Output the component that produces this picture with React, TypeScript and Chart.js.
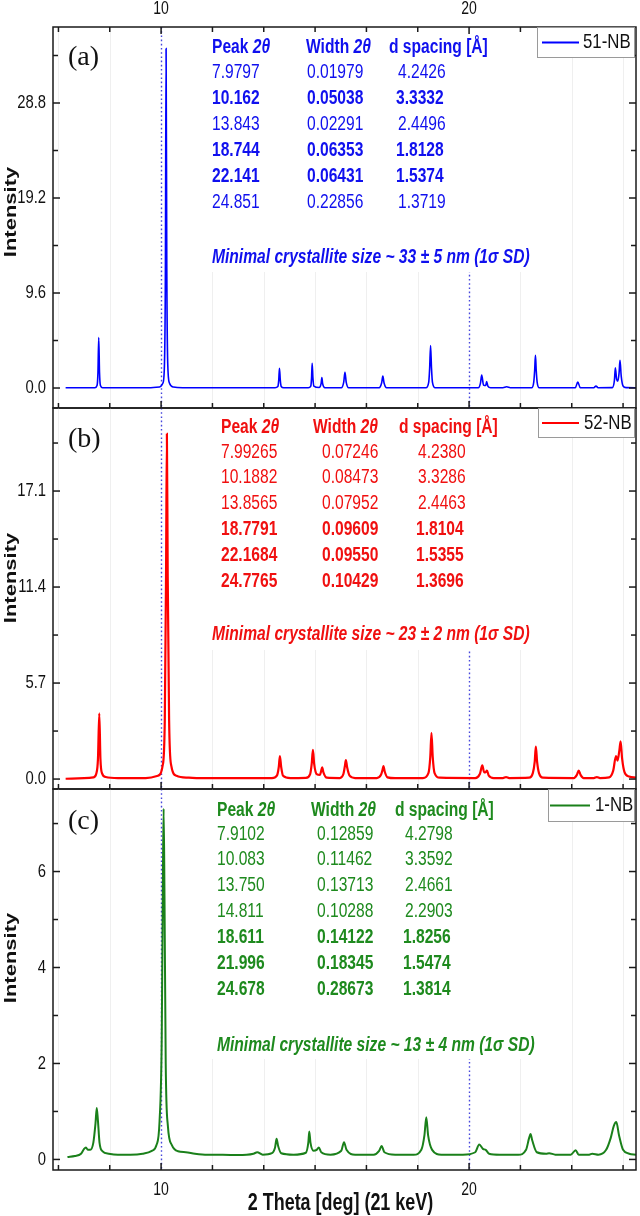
import React, { useEffect, useRef } from 'react';
import { Chart, registerables } from 'chart.js';
Chart.register(...registerables);

// ---------------- data ----------------
const X_MIN = 6.49;
const X_MAX = 25.42;
const xMajorTicks = [10, 20];
const xMajorLabels = ['10', '20'];
const xMinorTicks = [6.667, 8.333, 11.667, 13.333, 15, 16.667, 18.333, 21.667, 23.333, 25];
const xTitle = '2 Theta [deg] (21 keV)';
const yTitle = 'Intensity';

// panel (a) 51-NB
const xA = [6.9, 7.5, 7.85, 7.92, 7.95, 7.975, 8.0, 8.03, 8.1, 9.6, 9.95, 10.06, 10.11, 10.14, 10.162, 10.185, 10.215, 10.27, 10.4, 10.7,
  13.7, 13.79, 13.82, 13.843, 13.87, 13.9, 13.98, 14.78, 14.86, 14.885, 14.905, 14.93, 14.96, 15.13, 15.195, 15.22, 15.245, 15.32,
  15.85, 15.93, 15.97, 16.01, 16.09, 17.08, 17.16, 17.2, 17.24, 17.32, 18.6, 18.69, 18.72, 18.75, 18.78, 18.81, 18.9,
  20.3, 20.37, 20.41, 20.47, 20.54, 20.57, 20.61, 20.7, 21.1, 21.22, 21.34, 22.03, 22.1, 22.13, 22.155, 22.18, 22.21, 22.28,
  23.45, 23.53, 23.61, 24.05, 24.12, 24.19, 24.65, 24.72, 24.75, 24.79, 24.83, 24.87, 24.9, 24.94, 25.0, 25.1, 25.42];
const yA = [0.02, 0.02, 0.03, 0.25, 1.6, 5.1, 1.6, 0.25, 0.03, 0.03, 0.1, 0.5, 2.5, 12, 34.3, 12, 2.5, 0.5, 0.1, 0.03,
  0.03, 0.15, 0.8, 2.0, 0.8, 0.15, 0.03, 0.03, 0.2, 1.0, 2.5, 1.0, 0.2, 0.05, 0.45, 1.05, 0.45, 0.03,
  0.03, 0.6, 1.6, 0.6, 0.03, 0.03, 0.5, 1.2, 0.5, 0.03, 0.03, 0.6, 2.0, 4.3, 2.0, 0.6, 0.03,
  0.03, 0.5, 1.3, 0.3, 0.25, 0.65, 0.2, 0.03, 0.03, 0.12, 0.03, 0.03, 0.6, 1.8, 3.3, 1.8, 0.6, 0.03,
  0.03, 0.6, 0.03, 0.03, 0.2, 0.03, 0.04, 0.8, 2.05, 0.9, 0.7, 1.5, 2.8, 1.2, 0.2, 0.04, 0.03];

// panel (b) 52-NB
const xB = [6.9, 7.5, 7.8, 7.9, 7.95, 7.993, 8.03, 8.08, 8.2, 8.6, 9.5, 9.9, 10.05, 10.12, 10.16, 10.188, 10.215, 10.26, 10.33, 10.5, 10.9, 11.5,
  13.6, 13.76, 13.82, 13.857, 13.9, 13.96, 14.2, 14.7, 14.84, 14.89, 14.93, 14.97, 15.05, 15.16, 15.2, 15.23, 15.27, 15.38,
  15.8, 15.92, 15.97, 16.0, 16.04, 16.12, 16.3, 17.0, 17.14, 17.19, 17.22, 17.26, 17.35, 17.6, 18.5, 18.68, 18.74, 18.779, 18.82, 18.88, 19.05,
  20.2, 20.35, 20.43, 20.49, 20.53, 20.58, 20.64, 20.8, 21.1, 21.2, 21.3, 21.95, 22.07, 22.13, 22.168, 22.21, 22.27, 22.4,
  23.4, 23.5, 23.56, 23.62, 23.72, 24.05, 24.15, 24.25, 24.55, 24.68, 24.77, 24.82, 24.88, 24.92, 24.97, 25.05, 25.2, 25.42];
const yB = [0.02, 0.05, 0.1, 0.35, 1.2, 3.9, 1.2, 0.35, 0.12, 0.06, 0.06, 0.2, 0.8, 3.5, 12, 20.5, 12, 3.5, 0.8, 0.2, 0.08, 0.05,
  0.05, 0.2, 0.7, 1.37, 0.7, 0.2, 0.06, 0.07, 0.3, 0.9, 1.74, 0.9, 0.3, 0.25, 0.5, 0.7, 0.4, 0.08,
  0.06, 0.3, 0.8, 1.13, 0.7, 0.2, 0.06, 0.06, 0.25, 0.55, 0.77, 0.45, 0.1, 0.05, 0.06, 0.35, 1.3, 2.75, 1.3, 0.35, 0.08,
  0.06, 0.3, 0.81, 0.4, 0.4, 0.5, 0.2, 0.06, 0.06, 0.12, 0.06, 0.08, 0.35, 1.0, 1.92, 1.0, 0.35, 0.08,
  0.06, 0.25, 0.5, 0.25, 0.06, 0.06, 0.12, 0.06, 0.1, 0.5, 1.37, 1.1, 1.7, 2.24, 1.2, 0.4, 0.15, 0.08];

// panel (c) 1-NB
const xC = [6.96, 7.2, 7.4, 7.5, 7.56, 7.62, 7.7, 7.8, 7.87, 7.91, 7.95, 8.0, 8.1, 8.3, 8.6, 9.0, 9.4, 9.7, 9.85, 9.95, 10.02, 10.06, 10.083, 10.11, 10.15, 10.22, 10.35, 10.55,
  10.8, 11.1, 11.5, 12.0, 12.5, 13.0, 13.12, 13.3, 13.6, 13.7, 13.75, 13.8, 13.9, 14.3, 14.7, 14.78, 14.811, 14.85, 14.95, 15.05, 15.12, 15.2, 15.5,
  15.85, 15.94, 16.02, 16.3, 16.9, 17.08, 17.16, 17.25, 17.6, 18.2, 18.45, 18.55, 18.611, 18.67, 18.8, 19.1, 19.8, 20.2, 20.33, 20.45, 20.54, 20.65,
  21.0, 21.6, 21.85, 21.95, 21.996, 22.05, 22.2, 22.5, 22.6, 22.8, 23.3, 23.46, 23.56, 23.9, 24.0, 24.2, 24.45, 24.6, 24.7, 24.78, 24.87, 25.0, 25.2, 25.42];
const yC = [0.05, 0.07, 0.12, 0.22, 0.25, 0.2, 0.2, 0.35, 0.75, 1.07, 0.8, 0.35, 0.17, 0.12, 0.1, 0.1, 0.12, 0.18, 0.3, 0.8, 2.5, 6.0, 7.31, 5.5, 2.0, 0.7, 0.3, 0.17,
  0.15, 0.12, 0.1, 0.1, 0.09, 0.12, 0.15, 0.1, 0.13, 0.25, 0.43, 0.28, 0.13, 0.1, 0.14, 0.35, 0.58, 0.35, 0.18, 0.2, 0.25, 0.15, 0.1,
  0.18, 0.36, 0.2, 0.1, 0.1, 0.18, 0.28, 0.15, 0.1, 0.1, 0.2, 0.5, 0.88, 0.5, 0.2, 0.1, 0.1, 0.15, 0.31, 0.22, 0.2, 0.12,
  0.1, 0.1, 0.2, 0.45, 0.53, 0.4, 0.15, 0.12, 0.13, 0.1, 0.1, 0.19, 0.1, 0.1, 0.12, 0.1, 0.2, 0.45, 0.7, 0.78, 0.5, 0.2, 0.12, 0.1];

// y ticks
const yMajorA = [0, 9.6, 19.2, 28.8];
const yMinorA = [4.8, 14.4, 24, 33.6];
const yLabelsA = ['0.0', '9.6', '19.2', '28.8'];
const yMajorB = [0, 5.7, 11.4, 17.1];
const yMinorB = [2.85, 8.55, 14.25, 19.95];
const yLabelsB = ['0.0', '5.7', '11.4', '17.1'];
const yMajorC = [0, 2, 4, 6];
const yMinorC = [1, 3, 5, 7];
const yLabelsC = ['0', '2', '4', '6'];

// tables
const peaksA = ['7.9797', '10.162', '13.843', '18.744', '22.141', '24.851'];
const widthsA = ['0.01979', '0.05038', '0.02291', '0.06353', '0.06431', '0.22856'];
const dA = ['4.2426', '3.3332', '2.4496', '1.8128', '1.5374', '1.3719'];
const boldA = [false, true, false, true, true, false];
const crystalA = 'Minimal crystallite size ~ 33 ± 5 nm (1σ SD)';

const peaksB = ['7.99265', '10.1882', '13.8565', '18.7791', '22.1684', '24.7765'];
const widthsB = ['0.07246', '0.08473', '0.07952', '0.09609', '0.09550', '0.10429'];
const dB = ['4.2380', '3.3286', '2.4463', '1.8104', '1.5355', '1.3696'];
const boldB = [false, false, false, true, true, true];
const crystalB = 'Minimal crystallite size ~ 23 ± 2 nm (1σ SD)';

const peaksC = ['7.9102', '10.083', '13.750', '14.811', '18.611', '21.996', '24.678'];
const widthsC = ['0.12859', '0.11462', '0.13713', '0.10288', '0.14122', '0.18345', '0.28673'];
const dC = ['4.2798', '3.3592', '2.4661', '2.2903', '1.8256', '1.5474', '1.3814'];
const boldC = [false, false, false, false, true, true, true];
const crystalC = 'Minimal crystallite size ~ 13 ± 4 nm (1σ SD)';

// ---------------- layout / style ----------------
const SANS = '"Liberation Sans", Arial, sans-serif';
const SERIF = '"Liberation Serif", "Times New Roman", serif';
const SQ = 0.78;

type Panel = {
  label: string; legend: string; line: string; text: string; lw: number;
  xs: number[]; ys: number[]; yMin: number; yMax: number;
  yMajor: number[]; yMinor: number[]; yLabels: string[];
  peaks: string[]; widths: string[]; ds: string[]; bold: boolean[]; crystal: string;
  top: number; bottom: number;
  headY: number; row0: number; step: number; c1: number; c2h: number; c2: number; c3h: number; c3: number;
  crystalX: number; crystalY: number; boxBottom: number;
  leg: { x0: number; x1: number; y0: number; y1: number; l0: number; l1: number; tx: number };
  labelY: number; titleY: number; first: boolean; last: boolean;
};

const panels: Panel[] = [
  {
    label: '(a)', legend: '51-NB', line: '#0000ff', text: '#1010ee', lw: 1.6,
    xs: xA, ys: yA, yMin: -2.02, yMax: 36.48, yMajor: yMajorA, yMinor: yMinorA, yLabels: yLabelsA,
    peaks: peaksA, widths: widthsA, ds: dA, bold: boldA, crystal: crystalA,
    top: 27, bottom: 408, headY: 47, row0: 72, step: 26, c1: 212, c2h: 306, c2: 307, c3h: 389, c3: 398,
    crystalX: 212, crystalY: 257, boxBottom: 272,
    leg: { x0: 537, x1: 635, y0: 27, y1: 58, l0: 542, l1: 579, tx: 583 },
    labelY: 58, titleY: 212, first: true, last: false,
  },
  {
    label: '(b)', legend: '52-NB', line: '#ff0000', text: '#f01010', lw: 2.2,
    xs: xB, ys: yB, yMin: -0.59, yMax: 22.03, yMajor: yMajorB, yMinor: yMinorB, yLabels: yLabelsB,
    peaks: peaksB, widths: widthsB, ds: dB, bold: boldB, crystal: crystalB,
    top: 408, bottom: 789, headY: 427, row0: 452, step: 25.9, c1: 221, c2h: 313, c2: 322, c3h: 399, c3: 418,
    crystalX: 212, crystalY: 634, boxBottom: 650,
    leg: { x0: 538, x1: 635, y0: 408, y1: 438, l0: 542, l1: 579, tx: 584 },
    labelY: 440, titleY: 578, first: false, last: false,
  },
  {
    label: '(c)', legend: '1-NB', line: '#1a801a', text: '#1e8a1e', lw: 2,
    xs: xC, ys: yC, yMin: -0.22, yMax: 7.72, yMajor: yMajorC, yMinor: yMinorC, yLabels: yLabelsC,
    peaks: peaksC, widths: widthsC, ds: dC, bold: boldC, crystal: crystalC,
    top: 789, bottom: 1170, headY: 810, row0: 834, step: 25.9, c1: 217, c2h: 311, c2: 317, c3h: 395, c3: 405,
    crystalX: 217, crystalY: 1045, boxBottom: 1059,
    leg: { x0: 548, x1: 635, y0: 789, y1: 822, l0: 550, l1: 590, tx: 595 },
    labelY: 822, titleY: 958, first: false, last: true,
  },
];

function txt(ctx: CanvasRenderingContext2D, s: string, x: number, y: number, font: string, color: string,
  align: 'left' | 'center' | 'right' = 'left', sx = SQ) {
  ctx.save();
  ctx.font = font;
  ctx.fillStyle = color;
  ctx.textBaseline = 'middle';
  ctx.textAlign = 'left';
  const w = ctx.measureText(s).width * sx;
  let x0 = x;
  if (align === 'center') x0 = x - w / 2;
  else if (align === 'right') x0 = x - w;
  ctx.translate(x0, y);
  ctx.scale(sx, 1);
  ctx.fillText(s, 0, 0);
  ctx.restore();
  return w;
}

function makePlugin(p: Panel) {
  return {
    id: 'panel' + p.label,
    beforeDatasetsDraw(chart: any) {
      const ctx: CanvasRenderingContext2D = chart.ctx;
      const xs = chart.scales.x;
      const { top, bottom } = chart.chartArea;
      ctx.save();
      // faint grid
      ctx.strokeStyle = '#efefef';
      ctx.lineWidth = 1;
      xMinorTicks.forEach((v) => {
        const px = Math.round(xs.getPixelForValue(v)) + 0.5;
        ctx.beginPath(); ctx.moveTo(px, top); ctx.lineTo(px, bottom); ctx.stroke();
      });
      // blue dotted reference lines
      ctx.strokeStyle = '#4646dc';
      ctx.lineWidth = 1.4;
      ctx.setLineDash([1.6, 2.6]);
      xMajorTicks.forEach((v) => {
        const px = Math.round(xs.getPixelForValue(v)) + 0.5;
        ctx.beginPath(); ctx.moveTo(px, top); ctx.lineTo(px, bottom); ctx.stroke();
      });
      ctx.setLineDash([]);
      // white background for the text block
      ctx.fillStyle = '#ffffff';
      ctx.fillRect(200, top + 1, 348, p.boxBottom - top - 1);
      // table
      const bf = `bold 20px ${SANS}`;
      const bif = `italic bold 20px ${SANS}`;
      const nf = `20px ${SANS}`;
      let w = txt(ctx, 'Peak ', p.c1, p.headY, bf, p.text);
      txt(ctx, '2θ', p.c1 + w, p.headY, bif, p.text);
      w = txt(ctx, 'Width ', p.c2h, p.headY, bf, p.text);
      txt(ctx, '2θ', p.c2h + w, p.headY, bif, p.text);
      txt(ctx, 'd spacing [Å]', p.c3h, p.headY, bf, p.text);
      p.peaks.forEach((s, i) => {
        const y = p.row0 + i * p.step;
        const f = p.bold[i] ? bf : nf;
        txt(ctx, s, p.c1, y, f, p.text);
        txt(ctx, p.widths[i], p.c2, y, f, p.text);
        txt(ctx, p.ds[i], p.c3 - (p.bold[i] ? 2 : 0), y, f, p.text);
      });
      txt(ctx, p.crystal, p.crystalX, p.crystalY, bif, p.text);
      ctx.restore();
    },
    afterDatasetsDraw(chart: any) {
      const ctx: CanvasRenderingContext2D = chart.ctx;
      const xs = chart.scales.x;
      const ys = chart.scales.y;
      const { left, right, top, bottom } = chart.chartArea;
      ctx.save();
      ctx.strokeStyle = '#1a1a1a';
      ctx.lineWidth = 1.5;
      const tick = (x1: number, y1: number, x2: number, y2: number) => {
        ctx.beginPath(); ctx.moveTo(x1, y1); ctx.lineTo(x2, y2); ctx.stroke();
      };
      xMajorTicks.forEach((v) => {
        const px = xs.getPixelForValue(v);
        tick(px, bottom, px, bottom - 7);
        if (p.first) tick(px, top, px, top + 7);
      });
      xMinorTicks.forEach((v) => {
        const px = xs.getPixelForValue(v);
        tick(px, bottom, px, bottom - 5);
        if (p.first) tick(px, top, px, top + 5);
      });
      p.yMajor.forEach((v) => {
        const py = ys.getPixelForValue(v);
        tick(left, py, left + 7, py);
        tick(right, py, right - 7, py);
      });
      p.yMinor.forEach((v) => {
        const py = ys.getPixelForValue(v);
        tick(left, py, left + 5, py);
        tick(right, py, right - 5, py);
      });
      // frame
      ctx.strokeRect(left, top, right - left, bottom - top);
      // y tick labels
      p.yMajor.forEach((v, i) => {
        txt(ctx, p.yLabels[i], left - 7, ys.getPixelForValue(v), `19px ${SANS}`, '#111', 'right');
      });
      if (p.first) {
        xMajorTicks.forEach((v, i) => txt(ctx, xMajorLabels[i], xs.getPixelForValue(v), 9, `18px ${SANS}`, '#111', 'center'));
      }
      if (p.last) {
        xMajorTicks.forEach((v, i) => txt(ctx, xMajorLabels[i], xs.getPixelForValue(v), 1190, `18px ${SANS}`, '#111', 'center'));
        txt(ctx, xTitle, (left + right) / 2 - 4, 1204, `bold 23px ${SANS}`, '#111', 'center');
      }
      // y title (rotated)
      ctx.save();
      ctx.translate(11, p.titleY);
      ctx.rotate(-Math.PI / 2);
      ctx.scale(1, SQ);
      ctx.font = `bold 22px ${SANS}`;
      ctx.fillStyle = '#111';
      ctx.textAlign = 'center';
      ctx.textBaseline = 'middle';
      ctx.fillText(yTitle, 0, 0);
      ctx.restore();
      // panel label
      ctx.font = `28px ${SERIF}`;
      ctx.fillStyle = '#111';
      ctx.textAlign = 'left';
      ctx.textBaseline = 'middle';
      ctx.fillText(p.label, 68, p.labelY);
      // legend
      const L = p.leg;
      ctx.fillStyle = '#ffffff';
      ctx.fillRect(L.x0, L.y0, L.x1 - L.x0, L.y1 - L.y0);
      ctx.strokeStyle = '#9a9a9a';
      ctx.lineWidth = 1;
      ctx.strokeRect(L.x0 + 0.5, L.y0 + 0.5, L.x1 - L.x0 - 1, L.y1 - L.y0 - 1);
      ctx.strokeStyle = p.line;
      ctx.lineWidth = 2;
      const ly = (L.y0 + L.y1) / 2;
      tick(L.l0, ly, L.l1, ly);
      txt(ctx, p.legend, L.tx, ly, `21px ${SANS}`, '#111', 'left', 0.8);
      ctx.restore();
    },
  };
}

function PanelChart({ p }: { p: Panel }) {
  const ref = useRef<HTMLCanvasElement>(null);
  useEffect(() => {
    if (!ref.current) return;
    const data = p.xs.map((x, i) => ({ x, y: p.ys[i] }));
    const chart = new Chart(ref.current, {
      type: 'line',
      data: {
        datasets: [{
          label: p.legend,
          data,
          borderColor: p.line,
          borderWidth: p.lw,
          pointRadius: 0,
          fill: false,
          cubicInterpolationMode: 'monotone',
        }],
      },
      options: {
        responsive: false,
        animation: false,
        events: [],
        layout: { padding: { left: 53, right: 4, top: p.top, bottom: 1216 - p.bottom } },
        plugins: { legend: { display: false }, tooltip: { enabled: false } },
        scales: {
          x: { type: 'linear', min: X_MIN, max: X_MAX, display: false },
          y: { type: 'linear', min: p.yMin, max: p.yMax, display: false },
        },
      },
      plugins: [makePlugin(p)],
    } as any);
    return () => chart.destroy();
  }, [p]);
  return (
    <canvas ref={ref} width={640} height={1216}
      style={{ position: 'absolute', left: 0, top: 0, width: 640, height: 1216 }} />
  );
}

export default function App() {
  return (
    <div style={{ position: 'absolute', left: 0, top: 0, width: 640, height: 1216, background: '#fff', overflow: 'hidden' }}>
      {panels.map((p) => <PanelChart key={p.label} p={p} />)}
    </div>
  );
}
